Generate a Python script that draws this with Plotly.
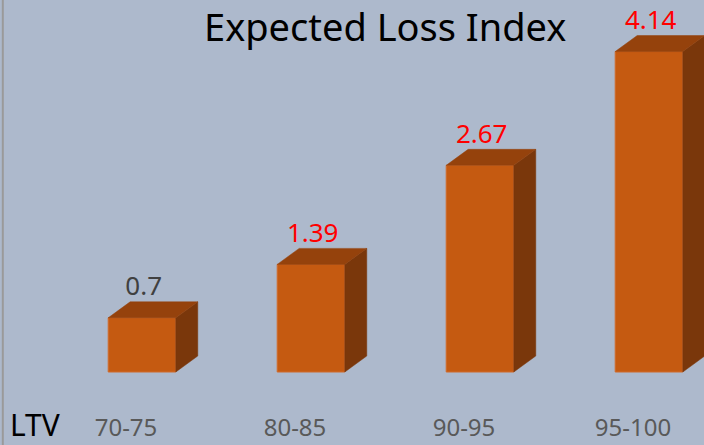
import plotly.graph_objects as go

categories = ["70-75", "80-85", "90-95", "95-100"]
values = [0.7, 1.39, 2.67, 4.14]
label_texts = ["0.7", "1.39", "2.67", "4.14"]
label_colors = ["#404040", "#ff0000", "#ff0000", "#ff0000"]

FRONT = "#c55a11"
TOP = "#95420c"
SIDE = "#7a370b"
BG = "#adb9cc"

W = 0.40    # bar width in category units
DX = 0.13   # depth offset (x, category units)
DY = 0.207  # depth offset (y, value units)

xs = list(range(len(categories)))
fig = go.Figure()

# side faces
for x, v in zip(xs, values):
    r = x + W / 2
    fig.add_trace(go.Scatter(
        x=[r, r + DX, r + DX, r, r], y=[0, DY, v + DY, v, 0],
        fill="toself", fillcolor=SIDE, mode="lines",
        line=dict(color=SIDE, width=0.5), hoverinfo="skip", showlegend=False))
# top faces
for x, v in zip(xs, values):
    l, r = x - W / 2, x + W / 2
    fig.add_trace(go.Scatter(
        x=[l, r, r + DX, l + DX, l], y=[v, v, v + DY, v + DY, v],
        fill="toself", fillcolor=TOP, mode="lines",
        line=dict(color=TOP, width=0.5), hoverinfo="skip", showlegend=False))
# front faces
fig.add_trace(go.Bar(
    x=xs, y=values, width=W, marker=dict(color=FRONT, line=dict(color="#d06a2a", width=1)),
    showlegend=False, hoverinfo="skip"))
# value labels
fig.add_trace(go.Scatter(
    x=[x + 0.01 for x in xs], y=[v + DY for v in values],
    mode="text", text=label_texts, textposition="top center",
    textfont=dict(family="Noto Sans", size=26, color=label_colors),
    hoverinfo="skip", showlegend=False))

px_per_x = 169.0
px_per_y = 77.4
BOTTOM = 34
plot_h = 445 - BOTTOM
fig.update_layout(
    width=704, height=445,
    margin=dict(l=0, r=0, t=0, b=BOTTOM, autoexpand=False),
    paper_bgcolor=BG, plot_bgcolor=BG,
    barmode="overlay",
    xaxis=dict(range=[-142 / px_per_x, (704 - 142) / px_per_x], automargin=False,
               tickvals=xs, ticktext=categories, showgrid=False, zeroline=False,
               showline=False, ticks="", ticklabelshift=-16,
               tickfont=dict(family="Noto Sans", size=24, color="#595959")),
    yaxis=dict(range=[-(plot_h - 372) / px_per_y, 372 / px_per_y], automargin=False,
               visible=False, showgrid=False, zeroline=False),
    annotations=[
        dict(text="Expected Loss Index", xref="paper", yref="paper",
             x=385 / 704, y=1 - 26 / plot_h, xanchor="center", yanchor="middle",
             showarrow=False, font=dict(family="Noto Sans", size=38, color="#000000")),
        dict(text="LTV", xref="paper", yref="paper",
             x=8 / 704, y=-(424 - plot_h) / plot_h, xanchor="left", yanchor="middle",
             showarrow=False, font=dict(family="Noto Sans", size=30, color="#000000")),
    ],
    shapes=[dict(type="line", xref="paper", yref="paper", x0=0.004, x1=0.004, y0=-0.1, y1=1.1,
                 line=dict(color="#9a9a9a", width=2))],
)

fig.write_html("out.html", config={"displayModeBar": False},
               post_script="document.body.style.margin='0';document.body.style.overflow='hidden';")
